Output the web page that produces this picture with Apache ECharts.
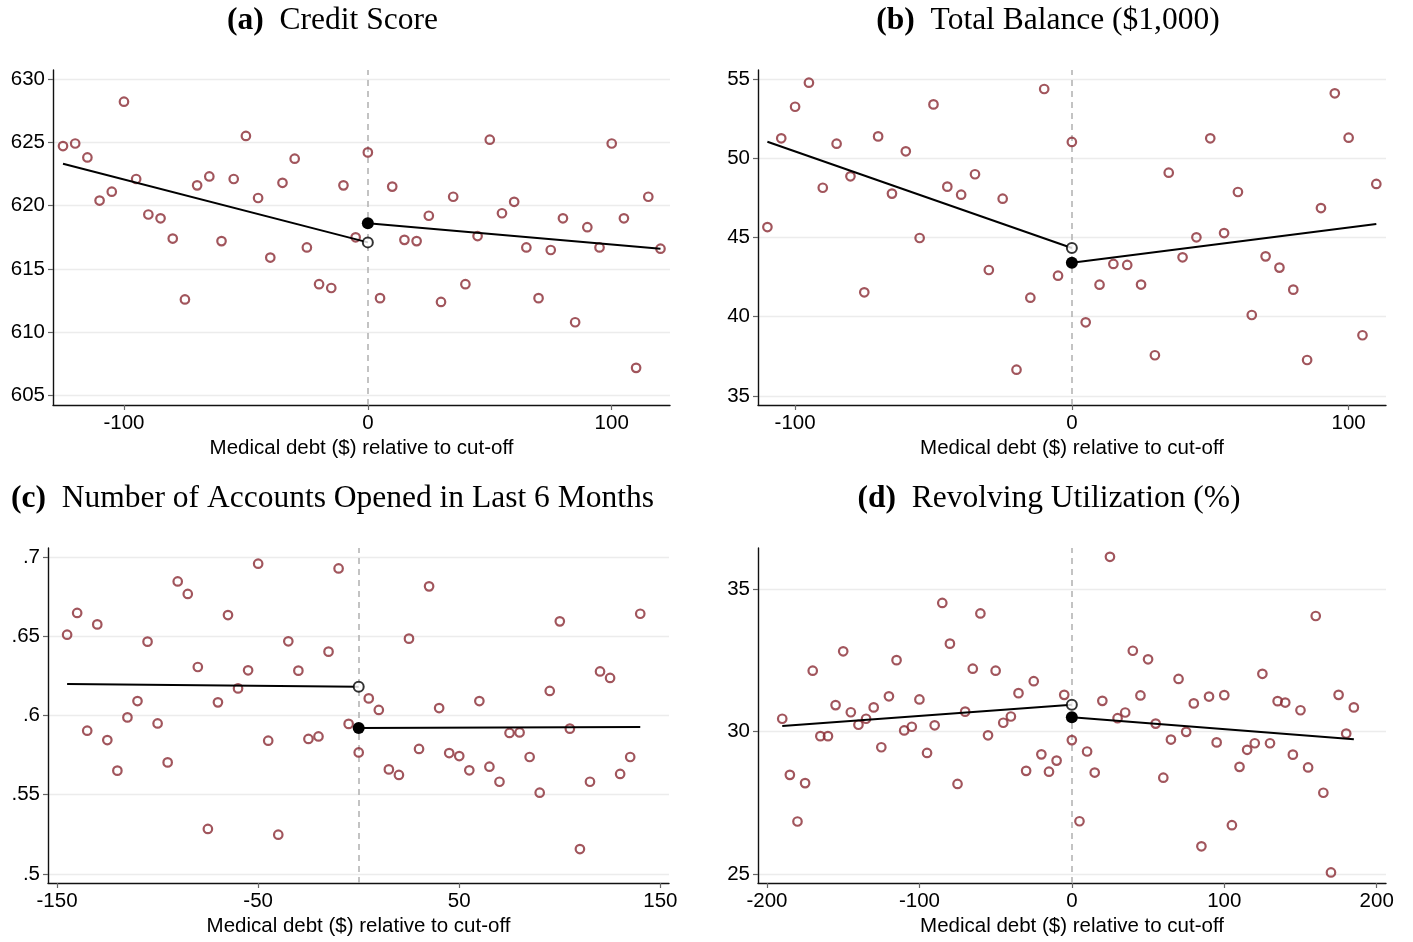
<!DOCTYPE html>
<html>
<head>
<meta charset="utf-8">
<script src="https://cdn.jsdelivr.net/npm/echarts@6/dist/echarts.min.js"></script>
<style>
html,body{margin:0;padding:0;background:#fff;}
#chart{width:1413px;height:942px;}
</style>
</head>
<body>
<div id="chart"></div>
<script>
// ---------------- Data ----------------
// (a) Credit Score
const aX = [-125,-120,-115,-110,-105,-100,-95,-90,-85,-80,-75,-70,-65,-60,-55,-50,-45,-40,-35,-30,-25,-20,-15,-10,-5,0,5,10,15,20,25,30,35,40,45,50,55,60,65,70,75,80,85,90,95,100,105,110,115,120];
const aY = [624.7,624.9,623.8,620.4,621.1,628.2,622.1,619.3,619.0,617.4,612.6,621.6,622.3,617.2,622.1,625.5,620.6,615.9,621.8,623.7,616.7,613.8,613.5,621.6,617.5,624.2,612.7,621.5,617.3,617.2,619.2,612.4,620.7,613.8,617.6,625.2,619.4,620.3,616.7,612.7,616.5,619.0,610.8,618.3,616.7,624.9,619.0,607.2,620.7,616.6];
const aFitLeft = [[-125, 623.3], [0, 617.1]];
const aFitRight = [[0, 618.6], [120, 616.6]];
const aXTicks = [-100, 0, 100];
const aYTicks = [605, 610, 615, 620, 625, 630];

// (b) Total Balance ($1,000)
const bX = [-110,-105,-100,-95,-90,-85,-80,-75,-70,-65,-60,-55,-50,-45,-40,-35,-30,-25,-20,-15,-10,-5,0,5,10,15,20,25,30,35,40,45,50,55,60,65,70,75,80,85,90,95,100,105,110];
const bY = [45.66,51.26,53.25,54.77,48.14,50.92,48.86,41.54,51.38,47.77,50.44,44.97,53.40,48.21,47.70,48.99,42.95,47.45,36.66,41.20,54.37,42.59,51.03,39.65,42.02,43.33,43.27,42.03,37.57,49.09,43.75,45.01,51.26,45.28,47.87,40.11,43.81,43.10,41.71,37.27,46.86,54.10,51.30,38.83,48.38];
const bFitLeft = [[-110, 51.04], [0, 44.34]];
const bFitRight = [[0, 43.41], [110, 45.85]];
const bXTicks = [-100, 0, 100];
const bYTicks = [35, 40, 45, 50, 55];

// (c) Number of Accounts Opened in Last 6 Months
const cX = [-145,-140,-135,-130,-125,-120,-115,-110,-105,-100,-95,-90,-85,-80,-75,-70,-65,-60,-55,-50,-45,-40,-35,-30,-25,-20,-15,-10,-5,0,5,10,15,20,25,30,35,40,45,50,55,60,65,70,75,80,85,90,95,100,105,110,115,120,125,130,135,140];
const cY = [0.651,0.6647,0.5904,0.6575,0.5845,0.5652,0.5988,0.6091,0.6466,0.595,0.5704,0.6846,0.6767,0.6306,0.5284,0.6083,0.6634,0.6171,0.6285,0.6958,0.5841,0.5248,0.6468,0.6283,0.5852,0.5868,0.6403,0.6928,0.5947,0.5767,0.6108,0.6035,0.566,0.5625,0.6485,0.5789,0.6815,0.6047,0.5763,0.5744,0.5654,0.6091,0.5677,0.5582,0.589,0.5893,0.5738,0.5513,0.6155,0.6594,0.5917,0.5157,0.5582,0.6278,0.6237,0.5631,0.5738,0.6642];
const cFitLeft = [[-145, 0.6199], [0, 0.6182]];
const cFitRight = [[0, 0.5921], [140, 0.5927]];
const cXTicks = [-150, -50, 50, 150];
const cYTicks = [0.5, 0.55, 0.6, 0.65, 0.7];

// (d) Revolving Utilization (%)
const dX = [-190,-185,-180,-175,-170,-165,-160,-155,-150,-145,-140,-135,-130,-125,-120,-115,-110,-105,-100,-95,-90,-85,-80,-75,-70,-65,-60,-55,-50,-45,-40,-35,-30,-25,-20,-15,-10,-5,0,5,10,15,20,25,30,35,40,45,50,55,60,65,70,75,80,85,90,95,100,105,110,115,120,125,130,135,140,145,150,155,160,165,170,175,180,185];
const dY = [30.45,28.48,26.84,28.19,32.14,29.84,29.84,30.93,32.82,30.68,30.24,30.45,30.85,29.45,31.24,32.51,30.04,30.17,31.13,29.25,30.22,34.52,33.09,28.16,30.70,32.21,34.15,29.87,32.14,30.31,30.53,31.35,28.62,31.77,29.20,28.59,28.98,31.29,29.70,26.85,29.30,28.56,31.08,36.14,30.47,30.67,32.84,31.27,32.54,30.28,28.38,29.72,31.85,29.99,30.99,25.97,31.23,29.62,31.28,26.71,28.76,29.36,29.59,32.03,29.59,31.07,31.02,29.19,30.75,28.74,34.06,27.85,25.05,31.29,29.93,30.85];
const dFitLeft = [[-190, 30.20], [0, 30.94]];
const dFitRight = [[0, 30.50], [185, 29.73]];
const dXTicks = [-200, -100, 0, 100, 200];
const dYTicks = [25, 30, 35];

const titles = [
  ['(a)', 'Credit Score'],
  ['(b)', 'Total Balance ($1,000)'],
  ['(c)', 'Number of Accounts Opened in Last 6 Months'],
  ['(d)', 'Revolving Utilization (%)']
];
const xName = 'Medical debt ($) relative to cut-off';

// ---------------- Layout / style ----------------
const SANS = '"Liberation Sans", Arial, sans-serif';
const SERIF = '"Liberation Serif", "Times New Roman", serif';
const RED = '#892a33';

const panels = [
  {x: aX, y: aY, fl: aFitLeft, fr: aFitRight, xt: aXTicks, yt: aYTicks,
   grid: {left: 53, top: 70, width: 617, height: 335}, xr: [-129.1, 123.9], yr: [604.27, 630.7], fmt: v => String(v)},
  {x: bX, y: bY, fl: bFitLeft, fr: bFitRight, xt: bXTicks, yt: bYTicks,
   grid: {left: 758, top: 70, width: 628, height: 335}, xr: [-113.4, 113.5], yr: [34.43, 55.57], fmt: v => String(v)},
  {x: cX, y: cY, fl: cFitLeft, fr: cFitRight, xt: cXTicks, yt: cYTicks,
   grid: {left: 48, top: 548, width: 621, height: 335}, xr: [-154.5, 154.3], yr: [0.4943, 0.7057], fmt: v => String(+v.toFixed(2)).replace(/^0\./, '.')},
  {x: dX, y: dY, fl: dFitLeft, fr: dFitRight, xt: dXTicks, yt: dYTicks,
   grid: {left: 758, top: 548, width: 628, height: 335}, xr: [-205.9, 206.1], yr: [24.68, 36.45], fmt: v => String(v)}
];

const grids = [], xAxes = [], yAxes = [], series = [];
panels.forEach((p, i) => {
  grids.push(Object.assign({containLabel: false}, p.grid));
  xAxes.push({
    type: 'value', gridIndex: i, min: p.xr[0], max: p.xr[1],
    name: xName, nameLocation: 'middle', nameGap: 33,
    nameTextStyle: {fontFamily: SANS, fontSize: 20.5, color: '#000'},
    axisLine: {show: true, onZero: false, lineStyle: {color: '#111', width: 1.4}},
    axisTick: {show: true, length: 5, lineStyle: {color: '#666', width: 1.2}, customValues: p.xt},
    axisLabel: {customValues: p.xt, margin: 8, fontFamily: SANS, fontSize: 20.5, color: '#000', formatter: v => String(v)},
    splitLine: {show: false}
  });
  yAxes.push({
    type: 'value', gridIndex: i, min: p.yr[0], max: p.yr[1],
    axisLine: {show: true, onZero: false, lineStyle: {color: '#111', width: 1.4}},
    axisTick: {show: true, length: 5, lineStyle: {color: '#666', width: 1.2}, customValues: p.yt},
    axisLabel: {customValues: p.yt, margin: 8, fontFamily: SANS, fontSize: 20.5, color: '#000', formatter: p.fmt},
    splitLine: {show: true, lineStyle: {color: '#ececec', width: 1.3}}
  });
  series.push({
    type: 'scatter', xAxisIndex: i, yAxisIndex: i, z: 4,
    data: p.x.map((xv, k) => [xv, p.y[k]]),
    symbol: 'circle', symbolSize: 8.5,
    itemStyle: {color: 'rgba(255,255,255,0)', borderColor: RED, borderWidth: 2.2},
    emphasis: {disabled: true}, silent: true,
    markLine: {
      silent: true, symbol: 'none', label: {show: false},
      lineStyle: {color: '#b0b0b0', type: [6, 5], width: 1.5},
      data: [{xAxis: 0}], z: 1
    }
  });
  series.push({
    type: 'line', xAxisIndex: i, yAxisIndex: i, z: 5, data: p.fl, symbol: 'none',
    lineStyle: {color: '#000', width: 2}, silent: true
  });
  series.push({
    type: 'line', xAxisIndex: i, yAxisIndex: i, z: 5, data: p.fr, symbol: 'none',
    lineStyle: {color: '#000', width: 2}, silent: true
  });
  series.push({
    type: 'scatter', xAxisIndex: i, yAxisIndex: i, z: 6, data: [p.fl[1]],
    symbol: 'circle', symbolSize: 10,
    itemStyle: {color: '#fff', borderColor: '#000', borderWidth: 2}, silent: true
  });
  series.push({
    type: 'scatter', xAxisIndex: i, yAxisIndex: i, z: 6, data: [p.fr[0]],
    symbol: 'circle', symbolSize: 12,
    itemStyle: {color: '#000', opacity: 1}, silent: true
  });
});

const titlePos = [[332.5, 21], [1048, 21], [332.5, 499], [1049, 499]];
const graphics = titles.map((t, i) => ({
  type: 'text', x: titlePos[i][0], y: titlePos[i][1], silent: true,
  style: {
    text: '{b|' + t[0] + '}{n|  ' + t[1] + '}',
    textAlign: 'center', textVerticalAlign: 'middle',
    fontFamily: SERIF, fontSize: 31.5, fill: '#000',
    rich: {
      b: {fontFamily: SERIF, fontSize: 31.5, fontWeight: 'bold', fill: '#000'},
      n: {fontFamily: SERIF, fontSize: 31.5, fontWeight: 'normal', fill: '#000'}
    }
  }
}));

const chart = echarts.init(document.getElementById('chart'), null, {renderer: 'canvas'});
chart.setOption({
  animation: false,
  backgroundColor: '#fff',
  grid: grids, xAxis: xAxes, yAxis: yAxes, series: series,
  graphic: graphics
});
</script>
</body>
</html>
